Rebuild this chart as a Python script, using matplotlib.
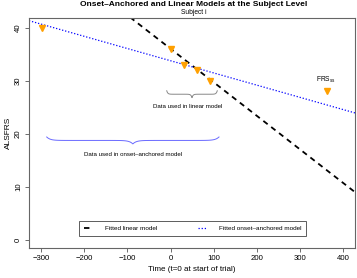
import matplotlib
matplotlib.use("Agg")
import matplotlib.pyplot as plt
import numpy as np

plt.rcParams["font.family"] = ["Liberation Sans", "DejaVu Sans"]

# observed ALSFRS scores (subject i)
obs_time = [-298, 1, 32, 61, 91]
obs_score = [40, 36, 33, 32, 30]
frs_time = [363]
frs_score = [28]

# fitted lines: (intercept, slope per day)
linear_fit = (36.0, -0.0632)
onset_fit = (33.75, -0.0230)

xticks = [-300, -200, -100, 0, 100, 200, 300, 400]
yticks = [0, 10, 20, 30, 40]

W, H = 357, 278


def brace(ax, x0, x1, y, h, color):
    # curly brace opening upward, tip pointing down at the middle
    t = np.linspace(0, 1, 60)
    xm = (x0 + x1) / 2
    q = h * 0.5
    xs = np.concatenate([x0 + (xm - x0) * t, xm + (x1 - xm) * t])
    left = q * (1 - np.exp(-t / 0.04)) + q * np.exp(-(1 - t) / 0.04)
    right = q * np.exp(-t / 0.04) + q * (1 - np.exp(-(1 - t) / 0.04))
    ys = y - np.concatenate([left, right])
    ax.plot(xs, ys, color=color, lw=0.7)


fig = plt.figure(figsize=(W / 100, H / 100), dpi=100)
ax = fig.add_axes([29 / W, 1 - 248 / H, (355 - 29) / W, (248 - 18) / H])

xx = np.array([-328, 427])
ax.plot(xx, linear_fit[0] + linear_fit[1] * xx, color="black", lw=1.3,
        ls=(0, (3, 2.5)), label="Fitted linear model")
ax.plot(xx, onset_fit[0] + onset_fit[1] * xx, color="blue", lw=0.9,
        ls=(0, (1, 1.5)), label="Fitted onset\u2013anchored model")
ax.plot(obs_time, obs_score, "v", color="#ffa000", ms=4, mec="#ffa000")
ax.plot(frs_time, frs_score, "v", color="#ffa000", ms=4, mec="#ffa000")
ax.text(frs_time[0] - 3, frs_score[0] + 2.2, r"FRS$_{\mathregular{ss}}$",
        ha="center", va="center", fontsize=4.8)

brace(ax, -9, 108, 28.1, 1.3, "#888888")
ax.text(40, 25.1, "Data used in linear model", ha="center", va="center",
        fontsize=4.4)
brace(ax, -287, 112, 19.4, 1.3, "#6a6aff")
ax.text(-88, 16.1, "Data used in onset\u2013anchored model", ha="center",
        va="center", fontsize=4.45)

ax.set_xlim(-328, 427)
ax.set_ylim(-1.5, 41.8)
ax.set_xticks(xticks)
ax.set_yticks(yticks)
ax.set_xticklabels([str(v).replace("-", "\u2212") for v in xticks], fontsize=5.6)
ax.set_yticklabels([str(v) for v in yticks], fontsize=5.6, rotation=90,
                   va="center")
ax.tick_params(length=3, width=0.6, color="#555555", pad=2)
for s in ax.spines.values():
    s.set_color("#666666")
    s.set_linewidth(0.8)

ax.set_xlabel("Time (t=0 at start of trial)", fontsize=5.8, labelpad=3)
ax.set_ylabel("ALSFRS", fontsize=6, labelpad=2)

fig.text(194 / W, 1 - 4.5 / H, "Onset\u2013Anchored and Linear Models at the Subject Level",
         ha="center", va="center", fontsize=6.0, weight="bold")
fig.text(194 / W, 1 - 13 / H, "Subject i", ha="center", va="center", fontsize=4.8)

leg = ax.legend(ncol=2, loc="center", fontsize=4.6,
                bbox_to_anchor=((79 + 306) / 2 / W, 1 - 228.5 / H),
                bbox_transform=fig.transFigure, frameon=True, fancybox=False,
                handlelength=1.4, columnspacing=6.3, borderpad=0.8,
                handletextpad=1.9)
leg.get_frame().set_edgecolor("#333333")
leg.get_frame().set_linewidth(0.7)

fig.savefig("out.png", dpi=100)
